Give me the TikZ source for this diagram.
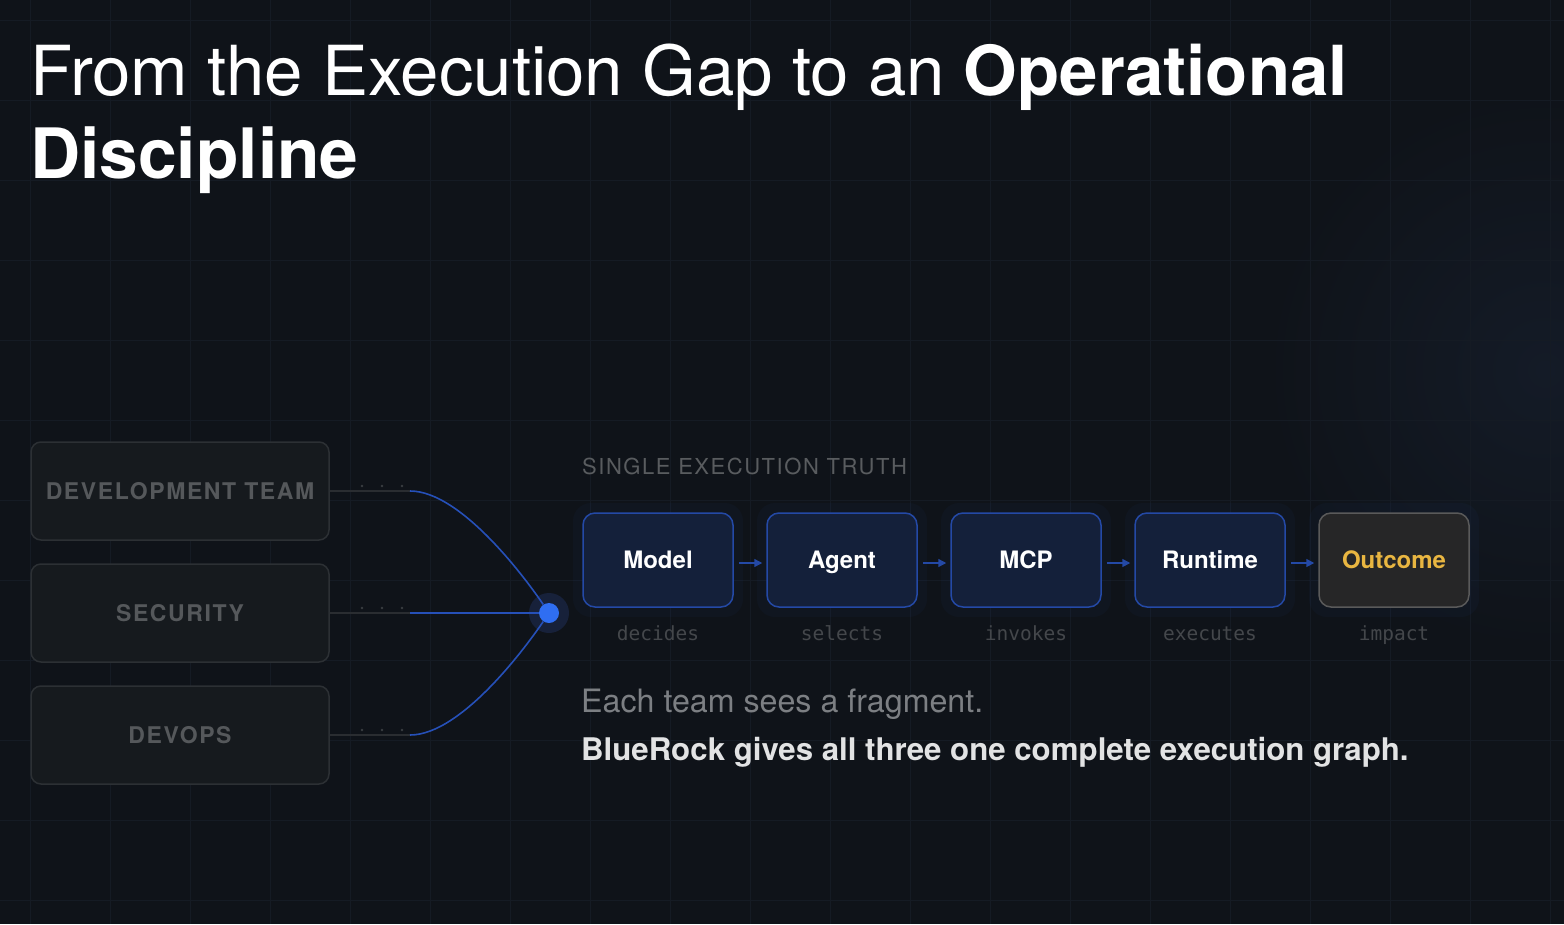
\documentclass[tikz,border=0pt]{standalone}
\usepackage{fontspec}
\setmainfont{TeX Gyre Heros}
\newfontfamily\lsfont[LetterSpace=7]{TeX Gyre Heros}
\newfontfamily\monofont{DejaVu Sans Mono}
\usetikzlibrary{arrows.meta}
\definecolor{bg}{HTML}{0F1319}
\definecolor{gridc}{HTML}{151B24}
\definecolor{glowc}{HTML}{141B27}
\definecolor{teamfill}{HTML}{161A1E}
\definecolor{teamdraw}{HTML}{2C3034}
\definecolor{teamtext}{HTML}{55585B}
\definecolor{chainfill}{HTML}{14203A}
\definecolor{chaindraw}{HTML}{2449A6}
\definecolor{outfill}{HTML}{262627}
\definecolor{outdraw}{HTML}{5A5A5A}
\definecolor{gold}{HTML}{E9B641}
\definecolor{linkblue}{HTML}{2650B8}
\definecolor{hubblue}{HTML}{2F6EF2}
\definecolor{halo}{HTML}{17213A}
\definecolor{greyline}{HTML}{2A2D31}
\definecolor{dotc}{HTML}{3A3D41}
\definecolor{sublab}{HTML}{44474B}
\definecolor{headc}{HTML}{595C5F}
\definecolor{fragc}{HTML}{7C7F83}
\definecolor{bluerockc}{HTML}{E2E3E4}
\tikzset{
  teambox/.style={draw=teamdraw, line width=1.5pt, fill=teamfill, rounded corners=10pt,
    minimum width=298pt, minimum height=98pt, inner sep=0pt,
    text=teamtext, font=\lsfont\bfseries\fontsize{23}{23}\selectfont,
    text height=16.5pt, text depth=0pt},
  chainbox/.style={draw=chaindraw, line width=1.5pt, fill=chainfill, rounded corners=12pt,
    minimum width=150pt, minimum height=94pt, inner sep=0pt,
    text=white, font=\bfseries\fontsize{24}{24}\selectfont,
    text height=17pt, text depth=0pt},
  outbox/.style={chainbox, draw=outdraw, fill=outfill, text=gold},
  sublabel/.style={anchor=base, inner sep=0pt, text=sublab, font=\monofont\fontsize{19.5}{19.5}\selectfont},
  chainarrow/.style={draw=chaindraw, line width=1.5pt, -{Triangle[length=8pt,width=8pt]},
    shorten <=5pt, shorten >=4pt},
  greylink/.style={draw=greyline, line width=1.5pt},
  bluelink/.style={draw=linkblue, line width=1.6pt},
  glowbox/.style={fill=hubblue, fill opacity=0.035, rounded corners=18pt,
    minimum width=170pt, minimum height=114pt, inner sep=0pt}
}
\begin{document}
\begin{tikzpicture}[x=1pt,y=-1pt]
\useasboundingbox (0,0) rectangle (1564,924);
\fill[bg] (0,0) rectangle (1564,924);
\begin{scope}
\clip (0,0) rectangle (1564,924);
\shade[inner color=glowc, outer color=bg] (1545,370) circle (280);
\foreach \gx in {30,110,...,1550} \draw[gridc, line width=1pt] (\gx,0) -- (\gx,924);
\foreach \gy in {20,100,...,900} \draw[gridc, line width=1pt] (0,\gy) -- (1564,\gy);
\end{scope}

% title
\node[anchor=base west, inner sep=0pt, text=white, font=\fontsize{69}{69}\selectfont] (t1) at (30,95)
  {From the Execution Gap to an \textbf{Operational}};
\node[anchor=base west, inner sep=0pt, text=white, font=\bfseries\fontsize{69.5}{69.5}\selectfont] (t2) at (30,178)
  {Discipline};

% team boxes
\node[teambox] (dev) at (180,491) {DEVELOPMENT TEAM};
\node[teambox] (sec) at (180,613) {SECURITY};
\node[teambox] (ops) at (180,735) {DEVOPS};

\coordinate (jd) at (410,491);
\coordinate (js) at (410,613);
\coordinate (jo) at (410,735);
\draw[greylink] (dev.east) -- (jd);
\draw[greylink] (sec.east) -- (js);
\draw[greylink] (ops.east) -- (jo);
\foreach \yy in {486,608,730}
  \foreach \xx in {362,382,402}
    \fill[dotc] (\xx,\yy) circle (1.3);

% hub
\fill[halo] (549,613) circle (20);
\node[circle, fill=hubblue, minimum size=20pt, inner sep=0pt] (hub) at (549,613) {};
\draw[bluelink] (jd) .. controls (462,491) and (528,582) .. (hub);
\draw[bluelink] (js) -- (hub);
\draw[bluelink] (jo) .. controls (462,735) and (528,644) .. (hub);

% heading
\node[anchor=base west, inner sep=0pt, text=headc, font=\lsfont\fontsize{22}{22}\selectfont] (head) at (582,474)
  {SINGLE EXECUTION TRUTH};

% glows
\foreach \cx in {658,842,1026,1210,1394}
  \node[glowbox] at (\cx,560) {};

% chain
\node[chainbox] (model) at (658,560) {Model};
\node[chainbox] (agent) at (842,560) {Agent};
\node[chainbox] (mcp) at (1026,560) {MCP};
\node[chainbox] (runtime) at (1210,560) {Runtime};
\node[outbox] (outcome) at (1394,560) {Outcome};

\draw[chainarrow] ([yshift=-3pt]model.east) -- ([yshift=-3pt]agent.west);
\draw[chainarrow] ([yshift=-3pt]agent.east) -- ([yshift=-3pt]mcp.west);
\draw[chainarrow] ([yshift=-3pt]mcp.east) -- ([yshift=-3pt]runtime.west);
\draw[chainarrow] ([yshift=-3pt]runtime.east) -- ([yshift=-3pt]outcome.west);

\node[sublabel] (l1) at (658,640) {decides};
\node[sublabel] (l2) at (842,640) {selects};
\node[sublabel] (l3) at (1026,640) {invokes};
\node[sublabel] (l4) at (1210,640) {executes};
\node[sublabel] (l5) at (1394,640) {impact};

% bottom text
\node[anchor=base west, inner sep=0pt, text=fragc, font=\fontsize{32.2}{32.2}\selectfont] (frag) at (581,712)
  {Each team sees a fragment.};
\node[anchor=base west, inner sep=0pt, text=bluerockc, font=\bfseries\fontsize{31.2}{31.2}\selectfont] (br) at (581,760)
  {BlueRock gives all three one complete execution graph.};
\end{tikzpicture}
\end{document}
